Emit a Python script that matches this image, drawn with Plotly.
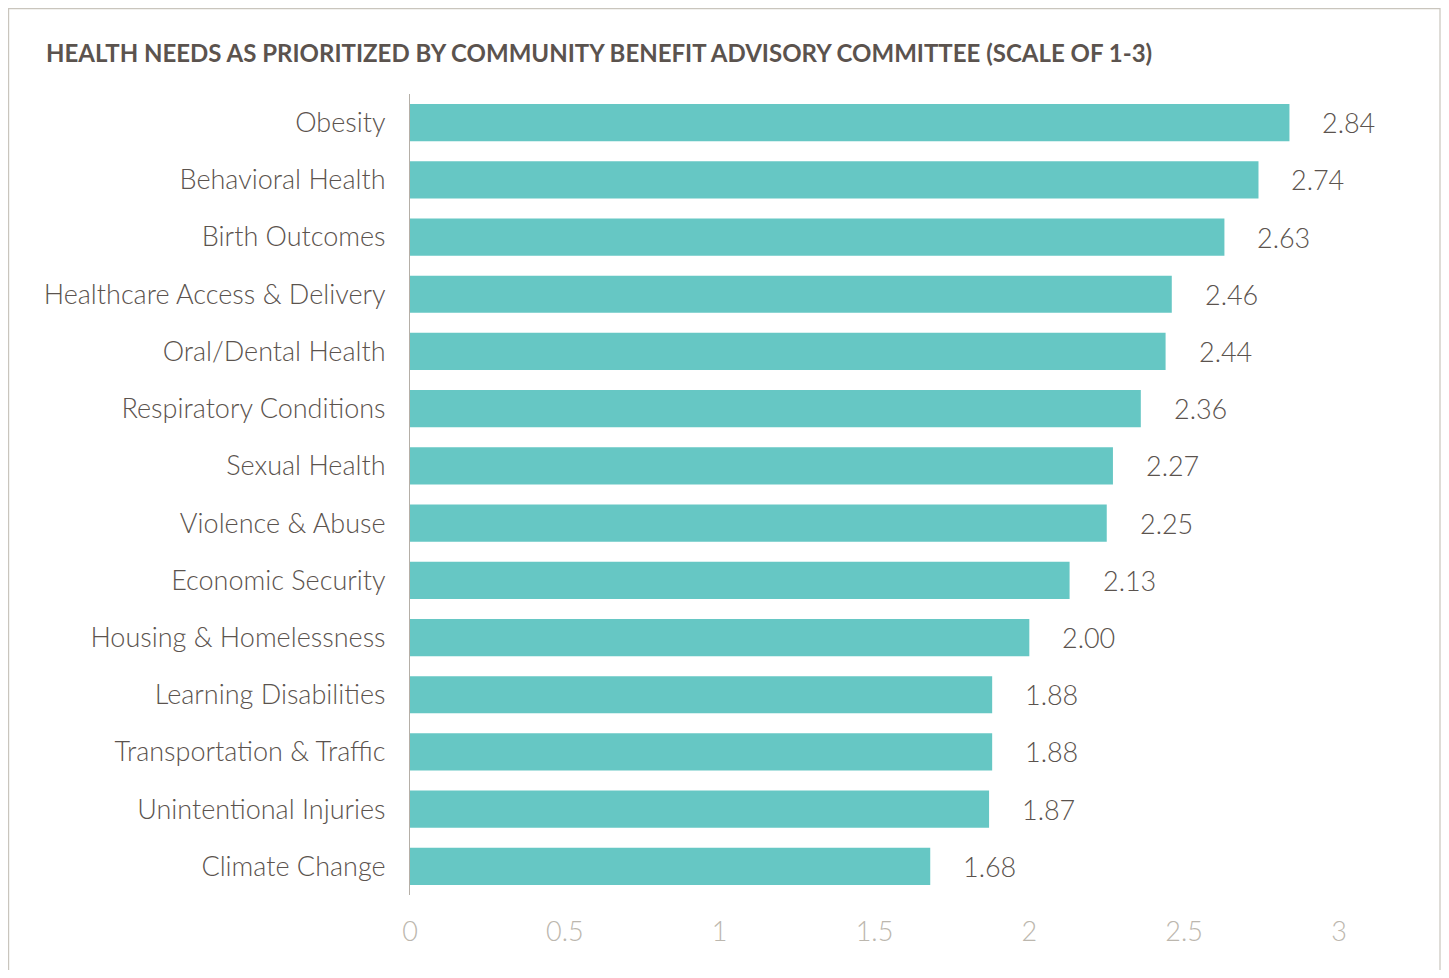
import plotly.graph_objects as go

categories = ["Obesity", "Behavioral Health", "Birth Outcomes", "Healthcare Access & Delivery",
              "Oral/Dental Health", "Respiratory Conditions", "Sexual Health", "Violence & Abuse",
              "Economic Security", "Housing & Homelessness", "Learning Disabilities",
              "Transportation & Traffic", "Unintentional Injuries", "Climate Change"]
values = [2.84, 2.74, 2.63, 2.46, 2.44, 2.36, 2.27, 2.25, 2.13, 2.00, 1.88, 1.88, 1.87, 1.68]
value_labels = ["2.84", "2.74", "2.63", "2.46", "2.44", "2.36", "2.27", "2.25", "2.13", "2.00",
                "1.88", "1.88", "1.87", "1.68"]
x_ticks = [0, 0.5, 1, 1.5, 2, 2.5, 3]
x_tick_labels = ["0", "0.5", "1", "1.5", "2", "2.5", "3"]
title = "HEALTH NEEDS AS PRIORITIZED BY COMMUNITY BENEFIT ADVISORY COMMITTEE (SCALE OF 1-3)"

TEXT = "#5b534e"
TICK = "#bcb7ae"
BAR = "#66c7c4"
FONT = "Lato"

fig = go.Figure(go.Bar(
    x=values, y=categories, orientation="h",
    marker=dict(color=BAR, line=dict(width=0)),
    width=0.65, hoverinfo="skip",
))

for c, v, t in zip(categories, values, value_labels):
    fig.add_annotation(x=v, y=c, text=t, showarrow=False, xanchor="left", yanchor="middle",
                       xshift=31, font=dict(family=FONT, size=27, color=TEXT, weight=300))

# page body has an 8px margin; figure coordinates are screen coordinates minus 8
OFF = 8
W, H = 1449 - 2 * OFF, 978 - 2 * OFF
L, T = 410 - OFF, 94 - OFF
R = W - (1339 - OFF)
B = H - (895 - OFF)
pw, ph = W - L - R, H - T - B

def px(x):
    return (x - OFF - L) / pw

def py(y):
    return (H - B - (y - OFF)) / ph

fig.add_shape(type="rect", xref="paper", yref="paper",
              x0=px(8.6), x1=px(1440), y0=py(1060), y1=py(8.6),
              line=dict(color="#c9c5bd", width=1.2), fillcolor="rgba(0,0,0,0)", layer="below")

fig.add_annotation(xref="paper", yref="paper", x=px(44), y=py(52), text="<b>" + title + "</b>",
                   showarrow=False, xanchor="left", yanchor="middle",
                   font=dict(family=FONT, size=24, color=TEXT))

fig.update_layout(
    width=W, height=H,
    margin=dict(l=L, r=R, t=T, b=B),
    paper_bgcolor="white", plot_bgcolor="white",
    showlegend=False,
    bargap=0.35,
    xaxis=dict(range=[0, 3], tickvals=x_ticks, ticktext=x_tick_labels, showgrid=False,
               zeroline=False, showline=False, ticks="", ticklabelstandoff=18,
               tickfont=dict(family=FONT, size=27, color=TICK, weight=300), fixedrange=True),
    yaxis=dict(autorange=False, range=[13.5, -0.5], categoryorder="array", categoryarray=categories,
               showgrid=False, zeroline=False, showline=True, linecolor="#b5afa7", linewidth=1,
               ticks="", ticklabelstandoff=18,
               tickfont=dict(family=FONT, size=27, color=TEXT, weight=300), fixedrange=True),
    font=dict(family=FONT),
)

fig.write_html("out.html")
